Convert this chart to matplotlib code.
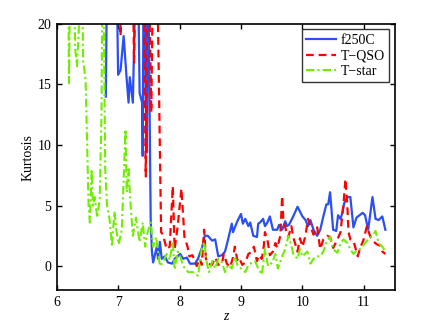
import numpy as np
import matplotlib
matplotlib.use('Agg')
import matplotlib.pyplot as plt

plt.rcParams['font.family'] = ['Liberation Serif', 'DejaVu Serif']

# f250C (blue, solid); values above 20 run off the top of the axes
z_f250c = [6.80, 6.83, 6.96, 7.00, 7.04, 7.09, 7.14, 7.17, 7.19, 7.24, 7.31,
           7.35, 7.39, 7.40, 7.42, 7.45, 7.47, 7.48, 7.52, 7.53, 7.55, 7.57,
           7.63, 7.65, 7.68, 7.71, 7.76, 7.81, 7.88, 7.92, 8.01, 8.06, 8.12,
           8.17, 8.25, 8.30, 8.37, 8.41, 8.46, 8.53, 8.58, 8.63, 8.69, 8.74,
           8.79, 8.85, 8.87, 8.94, 9.00, 9.03, 9.07, 9.12, 9.15, 9.20, 9.26,
           9.28, 9.31, 9.36, 9.39, 9.43, 9.47, 9.52, 9.59, 9.62, 9.67, 9.72,
           9.75, 9.78, 9.85, 9.92, 9.96, 10.00, 10.05, 10.09, 10.13, 10.18,
           10.24, 10.29, 10.34, 10.39, 10.42, 10.45, 10.50, 10.55, 10.58,
           10.62, 10.65, 10.68, 10.73, 10.78, 10.83, 10.88, 10.93, 10.98,
           11.02, 11.07, 11.14, 11.19, 11.24, 11.30, 11.35]
k_f250c = [14.0, 30, 30, 15.8, 16.2, 19.0, 15.4, 13.5, 15.6, 13.5, 30,
           14.3, 13.5, 9.1, 30, 13.5, 9.4, 30, 9.0, 3.9, 1.2, 0.3,
           1.6, 0.6, 2.0, 0.6, 0.8, 0.3, 0.2, 0.6, 1.0, 0.6, 0.7,
           0.2, 0.2, 0.6, 1.6, 2.5, 2.5, 2.1, 2.2, 0.8, 0.9, 1.2,
           2.2, 3.5, 2.8, 3.7, 4.3, 3.5, 3.9, 3.3, 3.6, 2.5, 2.4,
           3.5, 3.6, 3.9, 3.3, 3.6, 4.1, 3.0, 3.0, 3.4, 3.0, 3.7,
           3.3, 3.4, 4.1, 4.9, 4.5, 4.1, 3.8, 3.3, 3.8, 3.0,
           2.5, 3.0, 4.1, 5.1, 5.1, 6.1, 3.0, 2.9, 4.2,
           3.9, 4.4, 5.2, 5.7, 5.7, 3.2, 4.0, 4.2, 4.4,
           4.2, 3.0, 5.7, 3.9, 3.8, 4.1, 3.0]

# T-QSO (red, dashed)
z_tqso = [7.02, 7.04, 7.06, 7.22, 7.26, 7.30, 7.40, 7.45, 7.48, 7.54, 7.58,
          7.62, 7.70, 7.73, 7.79, 7.84, 7.89, 7.92, 7.97, 8.03, 8.08, 8.13,
          8.16, 8.21, 8.28, 8.33, 8.36, 8.40, 8.43, 8.46, 8.53, 8.58, 8.63,
          8.69, 8.72, 8.77, 8.82, 8.87, 8.90, 8.94, 8.97, 9.02, 9.07, 9.12,
          9.18, 9.21, 9.26, 9.29, 9.34, 9.37, 9.39, 9.43, 9.47, 9.52, 9.56,
          9.59, 9.64, 9.67, 9.69, 9.74, 9.77, 9.82, 9.85, 9.92, 9.96, 10.00,
          10.05, 10.09, 10.13, 10.18, 10.24, 10.29, 10.34, 10.40, 10.45,
          10.50, 10.57, 10.62, 10.67, 10.70, 10.73, 10.75, 10.78, 10.83,
          10.90, 10.94, 10.99, 11.05, 11.10, 11.14, 11.21, 11.26, 11.30, 11.35]
k_tqso = [30, 19.0, 30, 30, 16.8, 30, 30, 7.4, 30, 12.7, 30,
          30, 2.8, 2.6, 1.4, 1.6, 6.6, 1.4, 3.3, 6.4, 2.4, 1.6,
          0.8, 0.9, 0.0, 0.6, 0.1, 3.0, 0.6, 0.2, 0.1, 0.7, 0.1,
          0.2, 1.0, 0.2, -0.1, 0.7, 1.6, 0.5, 0.7, 0.1, 0.3, 1.0,
          1.2, 1.6, 0.4, 0.9, 0.6, 1.6, 2.8, 2.2, 0.9, 1.2, 1.9,
          1.5, 2.5, 5.8, 3.8, 2.8, 2.4, 3.3, 2.4, 1.2, 2.3, 1.6,
          2.5, 3.9, 3.3, 2.6, 3.2, 1.4, 2.2, 2.5, 2.4,
          1.5, 2.2, 2.8, 5.2, 7.2, 5.1, 2.8, 2.2, 2.1,
          0.8, 1.5, 2.1, 3.3, 2.5, 2.1, 1.8, 1.7, 1.2, 1.0]

# T-star (green, dash-dot)
z_tstar = [6.18, 6.20, 6.23, 6.27, 6.30, 6.33, 6.36, 6.40, 6.43, 6.47, 6.52,
           6.54, 6.57, 6.59, 6.62, 6.66, 6.70, 6.73, 6.75, 6.79, 6.82, 6.86,
           6.90, 6.94, 6.97, 7.01, 7.06, 7.12, 7.14, 7.17, 7.20, 7.24, 7.29,
           7.35, 7.40, 7.44, 7.48, 7.53, 7.57, 7.62, 7.68, 7.73, 7.79, 7.84,
           7.89, 7.92, 7.97, 8.01, 8.06, 8.14, 8.22, 8.30, 8.36, 8.40, 8.45,
           8.48, 8.53, 8.58, 8.63, 8.69, 8.74, 8.79, 8.85, 8.90, 8.94, 9.02,
           9.07, 9.12, 9.18, 9.23, 9.28, 9.34, 9.39, 9.44, 9.51, 9.56, 9.60,
           9.67, 9.72, 9.77, 9.82, 9.85, 9.92, 9.96, 10.00, 10.08, 10.13,
           10.18, 10.24, 10.29, 10.34, 10.40, 10.45, 10.50, 10.57, 10.62,
           10.67, 10.73, 10.78, 10.83, 10.90, 10.94, 11.02, 11.07, 11.14,
           11.19, 11.24, 11.30, 11.35]
k_tstar = [30, 15.1, 30, 30, 18.0, 16.5, 19.5, 30, 17.0, 15.4, 4.9,
           3.6, 8.0, 5.0, 5.7, 4.0, 5.5, 12.7, 30, 8.0, 5.0, 3.9,
           1.6, 4.5, 3.0, 1.8, 3.0, 11.3, 6.1, 8.0, 5.3, 2.5, 4.0,
           2.0, 3.6, 1.6, 2.8, 3.6, 1.6, 2.4, 0.0, 0.3, 1.0, 0.5,
           2.0, -0.3, 1.2, 0.8, 0.0, -0.5, -0.5, -0.8, 1.4, 2.0, 0.1,
           -0.5, 0.4, -0.2, 0.6, 0.3, -0.5, 0.1, -0.2, 0.8, 0.1, -0.3,
           -0.5, 0.1, 0.3, 0.4, -0.2, -0.7, 1.4, 0.0, 0.3, 1.0, -0.2,
           0.8, 1.4, 2.5, 1.7, 1.0, 0.6, 1.4, 0.8, 1.2, 0.2,
           0.6, 0.8, 0.8, 1.2, 2.1, 2.4, 1.4, 1.1, 1.9,
           2.2, 1.9, 1.4, 1.0, 1.4, 1.4, 1.9, 2.2, 2.5,
           2.9, 1.9, 1.6, 1.2]

fig = plt.figure(figsize=(4.36, 3.28), dpi=100)
ax = fig.add_axes([0.13, 0.115, 0.775, 0.812])

ax.plot(z_f250c, k_f250c, color='#2a4ff5', linestyle='-', linewidth=1.6,
        label='f250C')
ax.plot(z_tqso, k_tqso, color='#ff0000', linestyle=(0, (3.5, 2.2)),
        linewidth=1.6, label='T\u2212QSO')
ax.plot(z_tstar, k_tstar, color='#6fee00', linestyle=(0, (4, 1.5, 1, 1.5)),
        linewidth=1.5, label='T\u2212star')

ax.set_xlim(6, 11.5)
ax.set_ylim(-2, 20)
ax.set_xticks([6, 7, 8, 9, 10, 11])
ax.set_yticks([0, 5, 10, 15, 20])
ax.tick_params(direction='in', top=True, right=True, length=3.5, width=1,
               labelsize=10, pad=4)
for s in ax.spines.values():
    s.set_linewidth(1.2)

ax.set_xlabel('z', fontsize=10, fontstyle='italic', labelpad=1)
ax.set_ylabel('Kurtosis', fontsize=10, labelpad=2)

leg = ax.legend(loc='upper right', fontsize=10, frameon=True, fancybox=False,
                edgecolor='black', handlelength=2.2, handletextpad=0.3,
                borderpad=0.3, labelspacing=0.2, borderaxespad=0.4)
leg.get_frame().set_linewidth(1.0)

fig.savefig('out.png', dpi=100)
